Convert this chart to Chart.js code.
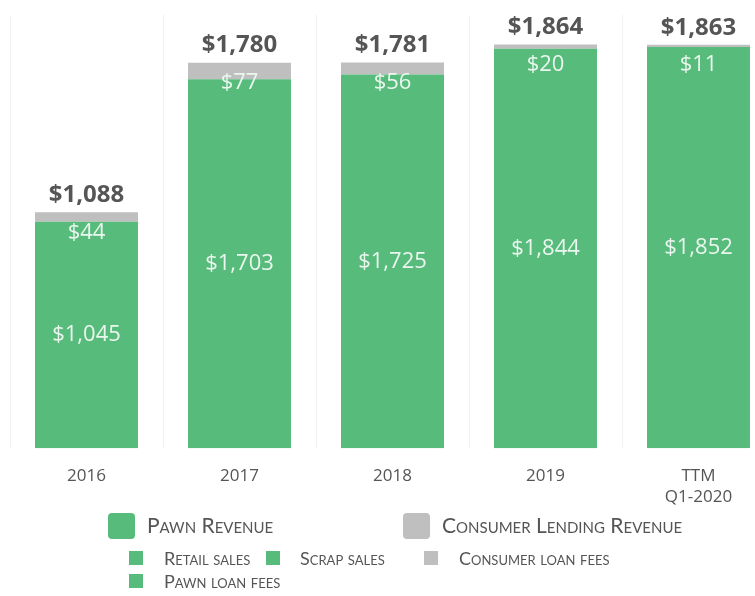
<!DOCTYPE html>
<html>
<head>
<meta charset="utf-8">
<script src="https://cdn.jsdelivr.net/npm/chart.js@4.4.1/dist/chart.umd.min.js"></script>
<style>
  html, body { margin: 0; padding: 0; background: #fff; }
  #wrap { position: relative; width: 755px; height: 596px; overflow: hidden; }
  #chart { position: absolute; left: 0; top: 0; }
  .lg { position: absolute; font-family: Lato, "Open Sans", sans-serif; font-variant: small-caps; color: #555; white-space: nowrap; }
  .big { font-size: 21px; line-height: 26px; }
  .small { font-size: 18px; line-height: 16px; }
  .sw { position: absolute; }
  .swBig { width: 27px; height: 26px; border-radius: 4px; }
  .swSmall { width: 14px; height: 14px; }
</style>
</head>
<body>
<div id="wrap">
  <canvas id="chart" width="780" height="530"></canvas>

  <div class="sw swBig" style="left:108px; top:513px; background:#56bb7b;"></div>
  <div class="lg big" style="left:147px; top:512px;">Pawn Revenue</div>
  <div class="sw swBig" style="left:403px; top:513px; background:#bfbfbf;"></div>
  <div class="lg big" style="left:442px; top:512px;">Consumer Lending Revenue</div>

  <div class="sw swSmall" style="left:129px; top:551px; background:#56bb7b;"></div>
  <div class="lg small" style="left:164px; top:550px;">Retail sales</div>
  <div class="sw swSmall" style="left:266px; top:551px; background:#56bb7b;"></div>
  <div class="lg small" style="left:300px; top:550px;">Scrap sales</div>
  <div class="sw swSmall" style="left:424px; top:551px; background:#bfbfbf;"></div>
  <div class="lg small" style="left:459px; top:550px;">Consumer loan fees</div>

  <div class="sw swSmall" style="left:129px; top:574px; background:#56bb7b;"></div>
  <div class="lg small" style="left:164px; top:573px;">Pawn loan fees</div>
</div>

<script>
  const categories = [['2016'], ['2017'], ['2018'], ['2019'], ['TTM', 'Q1-2020']];
  const pawnRevenue = [1045, 1703, 1725, 1844, 1852];
  const consumerRevenue = [44, 77, 56, 20, 11];
  const totals = [1088, 1780, 1781, 1864, 1863];

  const green = '#56bb7b';
  const gray = '#bfbfbf';

  const money = v => '$' + v.toLocaleString('en-US');

  const barLabels = {
    id: 'barLabels',
    afterDatasetsDraw(chart) {
      const {ctx} = chart;
      const pawnBars = chart.getDatasetMeta(0).data;
      const consumerBars = chart.getDatasetMeta(1).data;

      ctx.save();
      ctx.textAlign = 'center';

      pawnBars.forEach((bar, i) => {
        const top = consumerBars[i].y;

        // value of the green segment, centred in it
        ctx.fillStyle = '#eaf6ee';
        ctx.font = '22px "Open Sans", sans-serif';
        ctx.textBaseline = 'middle';
        ctx.fillText(money(pawnRevenue[i]), bar.x, (bar.y + bar.base) / 2);

        // consumer lending value, just under the top of the bar
        ctx.fillText(money(consumerRevenue[i]), bar.x, top + 20);

        // total above the bar
        ctx.fillStyle = '#555';
        ctx.font = 'bold 24px "Open Sans", sans-serif';
        ctx.textBaseline = 'bottom';
        ctx.fillText(money(totals[i]), bar.x, top - 5);
      });

      ctx.restore();
    }
  };

  new Chart(document.getElementById('chart'), {
    type: 'bar',
    data: {
      labels: categories,
      datasets: [
        {
          label: 'Pawn Revenue',
          data: pawnRevenue,
          backgroundColor: green,
          barPercentage: 0.673,
          categoryPercentage: 1
        },
        {
          label: 'Consumer Lending Revenue',
          data: consumerRevenue,
          backgroundColor: gray,
          barPercentage: 0.673,
          categoryPercentage: 1
        }
      ]
    },
    options: {
      responsive: false,
      animation: false,
      layout: {
        padding: {left: 10, right: 5, top: 15, bottom: 5}
      },
      plugins: {
        legend: { display: false },
        tooltip: { enabled: false }
      },
      scales: {
        x: {
          stacked: true,
          border: { display: false },
          grid: { color: '#f1f1f1', offset: true, drawTicks: false },
          ticks: {
            color: '#555',
            padding: 18,
            font: { family: '"Open Sans", sans-serif', size: 17 }
          }
        },
        y: {
          stacked: true,
          display: false,
          min: 0,
          max: 2000
        }
      }
    },
    plugins: [barLabels]
  });
</script>
</body>
</html>
